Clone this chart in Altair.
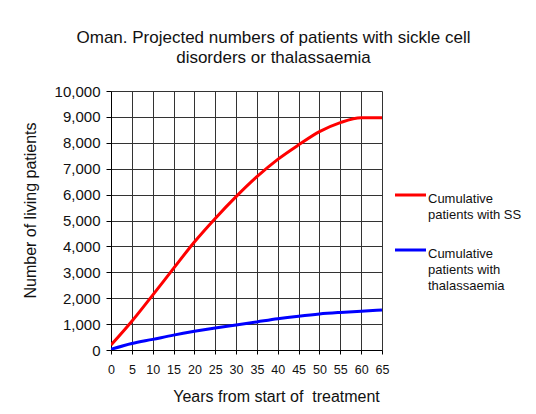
import altair as alt
import pandas as pd

years = [0, 5, 10, 15, 20, 25, 30, 35, 40, 45, 50, 55, 60, 65]
ss_patients = [190, 1110, 2120, 3150, 4170, 5080, 5920, 6690, 7360, 7920, 8430, 8780, 8970, 8970]
thal_patients = [25, 250, 410, 575, 720, 850, 965, 1085, 1205, 1305, 1390, 1450, 1500, 1545]
series_names = ["Cumulative patients with SS", "Cumulative patients with thalassaemia"]
series_colors = ["#ff0000", "#0000ff"]
legend_lines = [["Cumulative", "patients with SS"], ["Cumulative", "patients with", "thalassaemia"]]
x_ticks = list(range(0, 70, 5))
y_ticks = list(range(0, 11000, 1000))

df = pd.DataFrame({
    "year": years * 2,
    "patients": ss_patients + thal_patients,
    "series": [series_names[0]] * len(years) + [series_names[1]] * len(years),
})

FONT = "Liberation Sans"

base = alt.Chart(df)

lines = base.mark_line(strokeWidth=3, clip=True, interpolate="monotone").encode(
    x=alt.X("year:Q", scale=alt.Scale(domain=[0, 65], nice=False),
            axis=alt.Axis(values=x_ticks, title="Years from start of \u00a0treatment",
                          grid=True, gridColor="#333333", gridOpacity=1, gridWidth=1,
                          domainColor="#000000", tickColor="#000000", tickSize=4,
                          labelFontSize=12.5, labelColor="#111111", labelPadding=9,
                          labelFont=FONT, titleFont=FONT, titleFontSize=16,
                          titleFontWeight="normal", titleColor="#111111",
                          titleX=165, titleY=51, titleAlign="center",
                          titleBaseline="alphabetic", labelFlush=False)),
    y=alt.Y("patients:Q", scale=alt.Scale(domain=[0, 10000], nice=False),
            axis=alt.Axis(values=y_ticks, format=",d", title="Number of living patients",
                          grid=True, gridColor="#333333", gridOpacity=1, gridWidth=1,
                          domainColor="#000000", tickColor="#000000", tickSize=5,
                          labelFontSize=15, labelColor="#111111", labelPadding=6,
                          labelFont=FONT, titleFont=FONT, titleFontSize=16,
                          titleFontWeight="normal", titleColor="#111111",
                          titleX=-76, titleY=119, titleAngle=-90, titleAlign="center",
                          titleBaseline="alphabetic")),
    color=alt.Color("series:N", scale=alt.Scale(domain=series_names, range=series_colors),
                    legend=None),
)

legend_layers = []
legend_y = [104, 159]
for i, name in enumerate(series_names):
    legend_layers.append(
        alt.Chart(pd.DataFrame({"series": [name]})).mark_rule(strokeWidth=3, color=series_colors[i]).encode(
            x=alt.value(284), x2=alt.value(315), y=alt.value(legend_y[i])
        )
    )
    legend_layers.append(
        alt.Chart(pd.DataFrame({"series": [name]})).mark_text(
            text=legend_lines[i], align="left", baseline="alphabetic", font=FONT,
            fontSize=13, lineHeight=16, color="#111111"
        ).encode(x=alt.value(317), y=alt.value(legend_y[i] + 7.5))
    )

chart = alt.layer(lines, *legend_layers).properties(
    width=271,
    height=259,
    autosize=alt.AutoSizeParams(type="none"),
    padding={"left": 103, "top": 83, "right": 146, "bottom": 56},
    background="#ffffff",
    title=alt.TitleParams(
        text=["Oman. Projected numbers of patients with sickle cell", "disorders or thalassaemia"],
        font=FONT, fontSize=17, fontWeight="normal", color="#111111",
        anchor="middle", frame="group", dx=27, offset=17, lineHeight=20,
    ),
).configure_view(stroke=None)

chart.save("out.html", embed_options={"renderer": "svg", "actions": False})
